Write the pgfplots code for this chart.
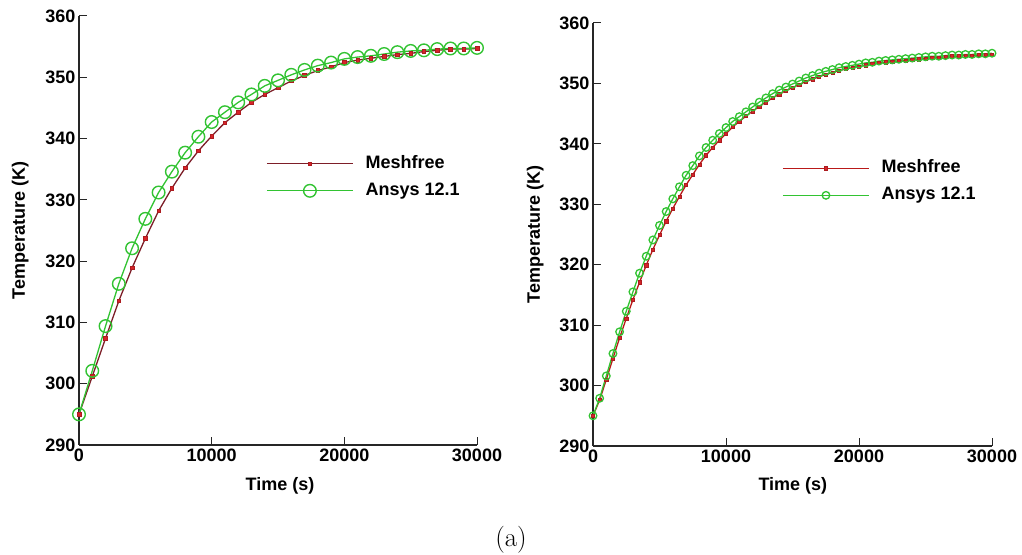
\documentclass[border=0pt]{standalone}
\usepackage{pgfplots}
\pgfplotsset{compat=1.18}
\usepackage{pgfplotstable}
\usepackage{fontspec}
\newfontfamily\arial{Liberation Sans}
\definecolor{mflineL}{RGB}{125,30,40}
\definecolor{mflineR}{RGB}{185,25,25}
\definecolor{mfmark}{RGB}{215,35,40}
\definecolor{ansys}{RGB}{50,195,50}

\pgfplotstableread{
t T
0 295.0
1000 302.1
2000 309.4
3000 316.3
4000 322.1
5000 326.9
6000 331.2
7000 334.6
8000 337.7
9000 340.3
10000 342.7
11000 344.3
12000 345.9
13000 347.2
14000 348.6
15000 349.5
16000 350.4
17000 351.2
18000 351.9
19000 352.4
20000 353.0
21000 353.3
22000 353.5
23000 353.8
24000 354.1
25000 354.3
26000 354.4
27000 354.6
28000 354.7
29000 354.7
30000 354.8
}\ansysL

\pgfplotstableread{
t T
0 295.0
1000 301.2
2000 307.4
3000 313.5
4000 318.9
5000 323.7
6000 328.2
7000 331.9
8000 335.2
9000 338.0
10000 340.4
11000 342.6
12000 344.3
13000 345.9
14000 347.2
15000 348.3
16000 349.4
17000 350.3
18000 351.1
19000 351.7
20000 352.4
21000 352.8
22000 353.1
23000 353.4
24000 353.7
25000 353.9
26000 354.2
27000 354.4
28000 354.6
29000 354.6
30000 354.7
}\meshL

\pgfplotstableread{
t T
0 295.0
500 297.9
1000 301.6
1500 305.3
2000 308.9
2500 312.3
3000 315.5
3500 318.6
4000 321.4
4500 324.1
5000 326.5
5500 328.8
6000 330.9
6500 332.9
7000 334.8
7500 336.4
8000 338.0
8500 339.4
9000 340.6
9500 341.7
10000 342.7
10500 343.7
11000 344.5
11500 345.3
12000 346.1
12500 346.9
13000 347.6
13500 348.3
14000 348.9
14500 349.4
15000 349.9
15500 350.4
16000 350.9
16500 351.3
17000 351.7
17500 352.0
18000 352.3
18500 352.6
19000 352.8
19500 353.0
20000 353.2
20500 353.4
21000 353.5
21500 353.7
22000 353.8
22500 353.9
23000 354.0
23500 354.1
24000 354.2
24500 354.3
25000 354.4
25500 354.5
26000 354.5
26500 354.6
27000 354.7
27500 354.7
28000 354.8
28500 354.8
29000 354.9
29500 354.9
30000 355.0
}\ansysR

\pgfplotstableread{
t T
0 295.0
500 297.6
1000 301.0
1500 304.5
2000 307.9
2500 311.1
3000 314.2
3500 317.1
4000 319.9
4500 322.5
5000 324.9
5500 327.2
6000 329.3
6500 331.3
7000 333.2
7500 334.9
8000 336.6
8500 338.1
9000 339.4
9500 340.6
10000 341.7
10500 342.8
11000 343.7
11500 344.6
12000 345.4
12500 346.2
13000 346.9
13500 347.6
14000 348.2
14500 348.8
15000 349.3
15500 349.8
16000 350.3
16500 350.7
17000 351.1
17500 351.5
18000 351.8
18500 352.1
19000 352.4
19500 352.6
20000 352.8
20500 353.0
21000 353.2
21500 353.4
22000 353.5
22500 353.6
23000 353.7
23500 353.8
24000 353.9
24500 354.0
25000 354.1
25500 354.2
26000 354.3
26500 354.4
27000 354.5
27500 354.5
28000 354.6
28500 354.6
29000 354.7
29500 354.7
30000 354.8
}\meshR

\pgfplotsset{
  tempaxis/.style={
    scale only axis,
    anchor=south west,
    xmin=0, xmax=30000, ymin=290, ymax=360,
    axis lines*=left,
    axis line style={line width=1.1pt, black!85},
    tick style={line width=1pt, black!85},
    tick align=inside,
    major tick length=8pt,
    xtick={0,10000,20000,30000},
    ytick={290,300,...,360},
    scaled x ticks=false,
    /pgf/number format/assume math mode=true,
    xticklabel style={/pgf/number format/.cd, fixed, 1000 sep={}},
    ticklabel style={font=\arial\bfseries\fontsize{18}{20}\selectfont},
    label style={font=\arial\bfseries\fontsize{18}{20}\selectfont},
    xlabel={Time (s)},
    ylabel={Temperature (K)},
    legend style={draw=none, fill=none, inner sep=0pt,
      font=\arial\bfseries\fontsize{18}{20}\selectfont,
      nodes={inner sep=4pt, text height=13pt, text depth=4pt},
      row sep=2pt,
      /tikz/every odd column/.append style={column sep=8pt}},
    legend cell align=left,
    legend image code/.code={\draw[mark repeat=2,mark phase=2] plot coordinates {(0pt,0pt) (43pt,0pt) (86pt,0pt)};},
    clip=false,
  }
}

\begin{document}
\begin{tikzpicture}
\path[use as bounding box] (0pt,0pt) rectangle (1022pt,554pt);

\begin{axis}[tempaxis,
  at={(79pt,109pt)}, width=398pt, height=429pt,
  xlabel style={at={(axis description cs:0.505,-0.096)}, anchor=center},
  ylabel style={at={(axis description cs:-0.148,0.5)}, anchor=center},
  legend style={at={(axis description cs:0.470,0.624)}, anchor=west},
]
\addplot[color=mflineL, line width=1.3pt, mark=square*, mark size=1.8pt,
  mark options={fill=mfmark, draw=mfmark!80!black, line width=0.6pt}] table[x=t,y=T] {\meshL};
\addlegendentry{Meshfree}
\addplot[color=ansys, line width=1.3pt, mark=o, mark size=6.3pt,
  mark options={draw=ansys, line width=1.4pt}] table[x=t,y=T] {\ansysL};
\addlegendentry{Ansys 12.1}
\end{axis}

\begin{axis}[tempaxis,
  at={(593pt,108pt)}, width=399pt, height=423pt,
  xlabel style={at={(axis description cs:0.501,-0.095)}, anchor=center},
  ylabel style={at={(axis description cs:-0.145,0.5)}, anchor=center},
  legend style={at={(axis description cs:0.474,0.6245)}, anchor=west},
]
\addplot[color=mflineR, line width=1.3pt, mark=square*, mark size=1.6pt,
  mark options={fill=mfmark, draw=mfmark!80!black, line width=0.5pt}] table[x=t,y=T] {\meshR};
\addlegendentry{Meshfree}
\addplot[color=ansys, line width=1.3pt, mark=o, mark size=3.8pt,
  mark options={draw=ansys, line width=1.3pt}] table[x=t,y=T] {\ansysR};
\addlegendentry{Ansys 12.1}
\end{axis}

\node at (511pt,14pt) {\fontsize{27}{30}\selectfont (a)};
\end{tikzpicture}
\end{document}
